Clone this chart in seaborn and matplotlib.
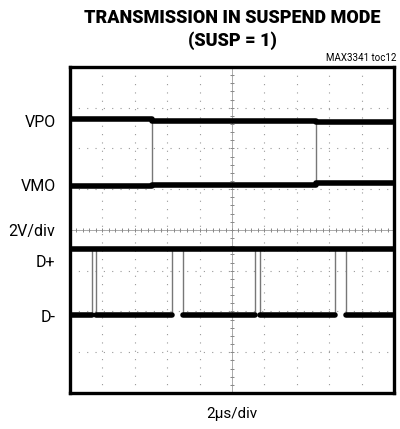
import numpy as np
import pandas as pd
import matplotlib
matplotlib.use("Agg")
import matplotlib.pyplot as plt
import seaborn as sns

# scope trace levels in divisions (0..8 from bottom), time in divisions (0..10)
vpo_breaks = [0, 2.53, 7.59, 10]
vpo_levels = [6.72, 6.68, 6.64]
vmo_breaks = [0, 2.53, 7.59, 10]
vmo_levels = [5.07, 5.11, 5.14]
vp_vm_edges = [2.53, 7.59]

dplus_level = 3.53
dminus_level = 1.91
dminus_starts = [0, 0.80, 3.49, 5.86, 8.52]
dminus_ends = [0.68, 3.15, 5.71, 8.18, 10]
d_edges = [0.68, 0.80, 3.15, 3.49, 5.71, 5.86, 8.18, 8.52]

channel_labels = ["VPO", "VMO", "2V/div", "D+", "D-"]
channel_label_y = [6.63, 5.06, 3.96, 3.2, 1.85]

sns.set_style("white")
plt.rcParams['font.family'] = ['Roboto', 'DejaVu Sans']
plt.rcParams['text.color'] = 'black'

# build segments table for seaborn
rows = []
seg = 0
for i in range(len(vpo_levels)):
    rows.append((seg, vpo_breaks[i], vpo_levels[i]))
    rows.append((seg, vpo_breaks[i + 1], vpo_levels[i]))
    seg += 1
for i in range(len(vmo_levels)):
    rows.append((seg, vmo_breaks[i], vmo_levels[i]))
    rows.append((seg, vmo_breaks[i + 1], vmo_levels[i]))
    seg += 1
rows.append((seg, 0, dplus_level))
rows.append((seg, 10, dplus_level))
seg += 1
for s, e in zip(dminus_starts, dminus_ends):
    rows.append((seg, s, dminus_level))
    rows.append((seg, e, dminus_level))
    seg += 1
df = pd.DataFrame(rows, columns=["seg", "t", "v"])

fig = plt.figure(figsize=(4.0, 4.29), dpi=100)
ax = fig.add_axes([0.175, 0.084, 0.81, 0.76])

# graticule
for gx in range(1, 10):
    ax.axvline(gx, color='#999999', lw=0.8, ls=(0, (1, 6.5)), zorder=1)
for gy in range(1, 8):
    ax.axhline(gy, color='#999999', lw=0.8, ls=(0, (1, 6.5)), zorder=1)
ax.axvline(5, color='#aaaaaa', lw=0.7, zorder=1)
ax.axhline(4, color='#aaaaaa', lw=0.7, zorder=1)
ticks_x = np.arange(0, 10.01, 0.2)
ticks_y = np.arange(0, 8.01, 0.2)
ax.plot(ticks_x, np.full_like(ticks_x, 4), ls='none', marker='|', ms=3, mew=0.7, color='#888888', zorder=1)
ax.plot(np.full_like(ticks_y, 5), ticks_y, ls='none', marker='_', ms=3, mew=0.7, color='#888888', zorder=1)

# transitions
ax.vlines(vp_vm_edges, vmo_levels[1], vpo_levels[1], color='#777777', lw=1.0, zorder=2)
ax.vlines(d_edges, dminus_level, dplus_level, color='#777777', lw=1.0, zorder=2)

# traces
sns.lineplot(data=df, x="t", y="v", units="seg", estimator=None, color='black',
             linewidth=4.0, ax=ax, legend=False, zorder=3)

ax.set_xlim(0, 10)
ax.set_ylim(0, 8)
ax.set_xticks([])
ax.set_yticks([])
ax.set_xlabel("")
ax.set_ylabel("")
for sp in ax.spines.values():
    sp.set_visible(True)
    sp.set_linewidth(2.4)
    sp.set_color('black')

for lab, ly in zip(channel_labels, channel_label_y):
    ax.text(-0.45, ly, lab, ha='right', va='center', fontsize=11.5)

fig.text(0.58, 0.958, "TRANSMISSION IN SUSPEND MODE", ha='center', va='center',
         fontsize=13, fontweight='black')
fig.text(0.58, 0.905, "(SUSP = 1)", ha='center', va='center', fontsize=13, fontweight='black')
fig.text(0.99, 0.864, "MAX3341 toc12", ha='right', va='center', fontsize=7)
fig.text(0.58, 0.036, "2\u03bcs/div", ha='center', va='center', fontsize=11)

fig.savefig("out.png", dpi=100)
